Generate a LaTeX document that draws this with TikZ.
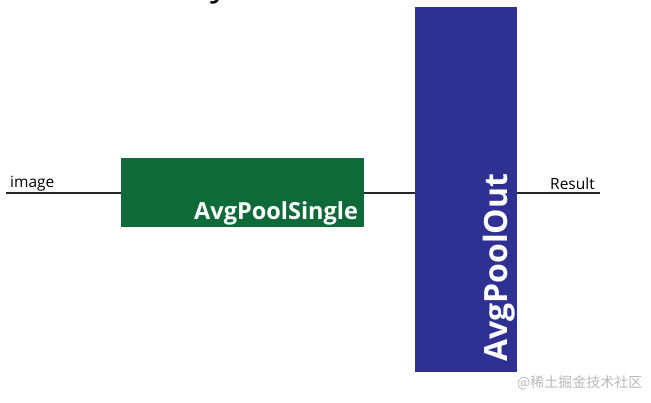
\documentclass[tikz,border=0pt]{standalone}
\usepackage{fontspec}
\setmainfont{Open Sans}
\newfontfamily\cjkfont{Noto Sans CJK SC}
\usepackage{xcolor}
\definecolor{poolgreen}{RGB}{14,106,57}
\definecolor{poolblue}{RGB}{46,49,146}
\begin{document}
\begin{tikzpicture}[x=1pt, y=1pt,
		wire/.style={line width=1.4pt, color=black!85},
		layerbox/.style={draw=none, inner sep=0pt},
		layertext/.style={text=white, font=\bfseries\fontsize{23.5}{24}\selectfont, inner sep=0pt},
		iolabel/.style={font=\fontsize{15.5}{16}\selectfont, inner sep=0pt, anchor=base west}]
		\useasboundingbox (0, 0) rectangle (651, 403);
		\node[layerbox, fill=poolgreen, minimum width=243, minimum height=69] (single) at (242.5, 210) {};
		\node[layerbox, fill=poolblue, minimum width=102, minimum height=365] (pout) at (466, 213.5) {};
		\node[layertext, anchor=base east] (singletext) at ([xshift=-6, yshift=8]single.south east) {AvgPoolSingle};
		\node[layertext, font=\bfseries\fontsize{32}{32}\selectfont, rotate=90, anchor=base west] (pouttext) at ([xshift=-10, yshift=10]pout.south east) {AvgPoolOut};
		\coordinate (in) at (6, 210);
		\coordinate (res) at (600, 210);
		\draw[wire] (in) -- (single.west);
		\draw[wire] (single.east) -- (pout.west |- single.east);
		\draw[wire] (pout.east |- res) -- (res);
		\node[iolabel] (imglabel) at (10, 215) {image};
		\node[iolabel] (reslabel) at (550, 213) {Result};
		\node[font=\fontsize{36}{36}\selectfont, inner sep=0pt, anchor=base west] (topy) at (210, 407.5) {y};
		\node[font=\cjkfont\fontsize{14}{14}\selectfont, text=black!28, inner sep=0pt, anchor=base west] (mark) at (517, 15) {@稀土掘金技术社区};
	\end{tikzpicture}
\end{document}
